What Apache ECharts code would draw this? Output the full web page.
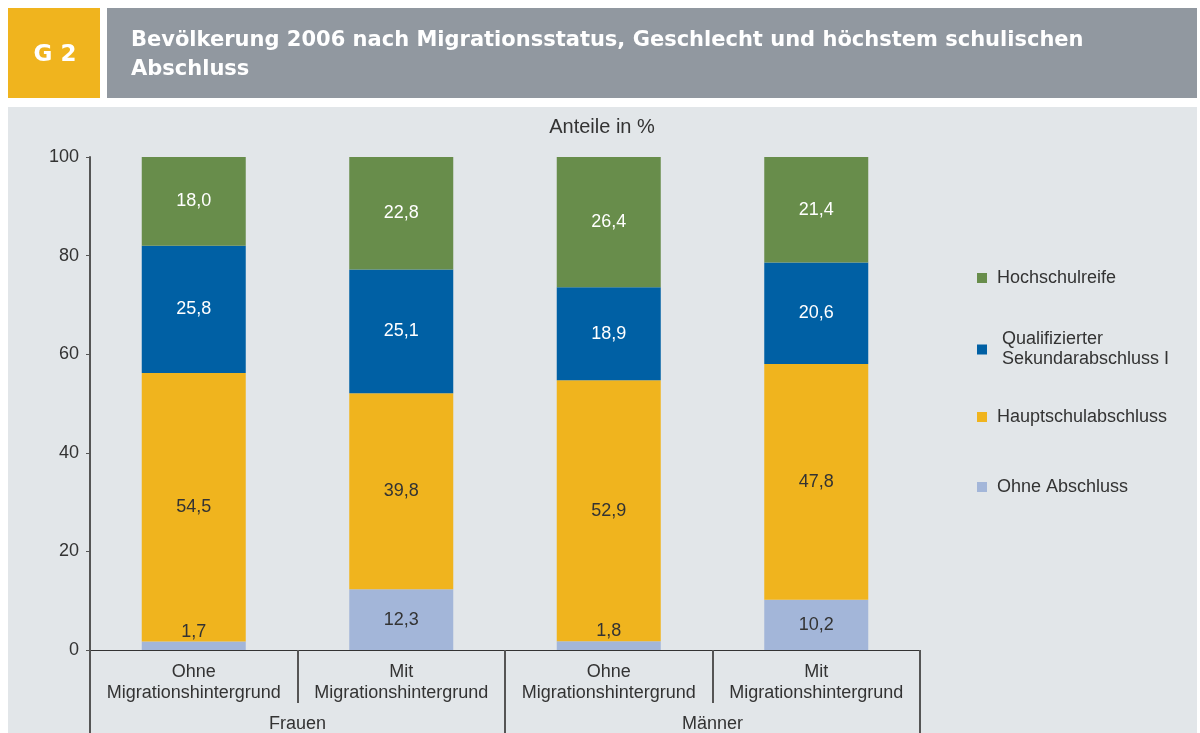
<!DOCTYPE html>
<html>
<head>
<meta charset="utf-8">
<script src="https://cdn.jsdelivr.net/npm/echarts@6/dist/echarts.min.js"></script>
<style>
  html, body { margin: 0; padding: 0; background: #fff; }
  #chart { width: 1200px; height: 733px; }
</style>
</head>
<body>
<div id="chart"></div>
<script>
const categories = ['Ohne\nMigrationshintergrund', 'Mit\nMigrationshintergrund', 'Ohne\nMigrationshintergrund', 'Mit\nMigrationshintergrund'];
const groups = ['Frauen', 'Männer'];

const ohneAbschluss = [1.7, 12.3, 1.8, 10.2];
const hauptschule = [54.5, 39.8, 52.9, 47.8];
const qualifiziert = [25.8, 25.1, 18.9, 20.6];
const hochschulreife = [18.0, 22.8, 26.4, 21.4];

const FONT = '"Liberation Sans", Arial, sans-serif';
const HEAD_FONT = '"DejaVu Sans", "Liberation Sans", sans-serif';
const TEXT = '#333';
const fmt = v => v.toFixed(1).replace('.', ',');

const seriesDefs = [
  { name: 'Ohne Abschluss', data: ohneAbschluss, color: '#a3b6d9', labelColor: TEXT },
  { name: 'Hauptschulabschluss', data: hauptschule, color: '#f0b41e', labelColor: TEXT },
  { name: 'Qualifizierter\nSekundarabschluss I', data: qualifiziert, color: '#0060a4', labelColor: '#fff' },
  { name: 'Hochschulreife', data: hochschulreife, color: '#688d4b', labelColor: '#fff' }
];

// legend placement, one legend per entry
const legendPos = {
  'Hochschulreife': { top: 268, pad: [0, 0, 0, 5] },
  'Qualifizierter\nSekundarabschluss I': { top: 322, pad: [15, 0, 0, 10] },
  'Hauptschulabschluss': { top: 407, pad: [0, 0, 0, 5] },
  'Ohne Abschluss': { top: 477, pad: [0, 0, 0, 5] }
};

const chart = echarts.init(document.getElementById('chart'));
chart.setOption({
  backgroundColor: '#fff',
  animation: false,
  textStyle: { fontFamily: FONT },
  graphic: [
    { type: 'rect', z: -10, shape: { x: 8, y: 107, width: 1189, height: 630 }, style: { fill: '#e2e6e9' } },
    { type: 'rect', z: -10, shape: { x: 8, y: 8, width: 92, height: 90 }, style: { fill: '#f0b41e' } },
    { type: 'rect', z: -10, shape: { x: 107, y: 8, width: 1090, height: 90 }, style: { fill: '#9198a0' } },
    { type: 'text', x: 55, y: 55, style: { text: 'G 2', fill: '#fff', font: 'bold 23px ' + HEAD_FONT, align: 'center', verticalAlign: 'middle' } },
    { type: 'text', x: 131, y: 26, style: {
      text: 'Bevölkerung 2006 nach Migrationsstatus, Geschlecht und höchstem schulischen\nAbschluss',
      fill: '#fff', font: 'bold 21px ' + HEAD_FONT, lineHeight: 29 } },
    { type: 'text', x: 602, y: 127, style: { text: 'Anteile in %', fill: TEXT, font: '20px ' + FONT, align: 'center', verticalAlign: 'middle' } }
  ],
  legend: seriesDefs.map(s => ({
    data: [s.name],
    left: 977,
    top: legendPos[s.name].top,
    padding: 0,
    icon: 'rect',
    itemWidth: 10,
    itemHeight: 10,
    textStyle: { fontSize: 18, color: TEXT, fontFamily: FONT, lineHeight: 20, padding: legendPos[s.name].pad }
  })),
  grid: { left: 90, right: 280, top: 157, bottom: 83 },
  xAxis: [
    {
      type: 'category',
      data: categories,
      axisLine: { lineStyle: { color: '#333', width: 1 } },
      axisTick: { show: true, interval: 0, length: 53, lineStyle: { color: '#555', width: 2 } },
      axisLabel: { interval: 0, color: TEXT, fontSize: 18, lineHeight: 21, margin: 12, fontFamily: FONT }
    },
    {
      type: 'category',
      position: 'bottom',
      data: groups,
      axisLine: { show: false },
      axisTick: { show: true, interval: 0, length: 90, lineStyle: { color: '#555', width: 2 } },
      axisLabel: { interval: 0, color: TEXT, fontSize: 18, margin: 65, fontFamily: FONT }
    }
  ],
  yAxis: {
    type: 'value',
    min: 0,
    max: 100,
    interval: 20,
    axisLine: { show: true, lineStyle: { color: '#555', width: 2 } },
    axisTick: { show: true, length: 4, lineStyle: { color: '#555' } },
    axisLabel: { color: TEXT, fontSize: 18, margin: 11, fontFamily: FONT },
    splitLine: { show: false }
  },
  series: seriesDefs.map(s => ({
    name: s.name,
    type: 'bar',
    stack: 'total',
    barWidth: 104,
    itemStyle: { color: s.color },
    label: { show: true, position: 'inside', color: s.labelColor, fontSize: 18, fontFamily: FONT, formatter: p => fmt(p.value) },
    data: s.data.map(v => v < 5
      ? { value: v, label: { position: 'top', distance: 1 } }
      : v)
  }))
});
</script>
</body>
</html>
